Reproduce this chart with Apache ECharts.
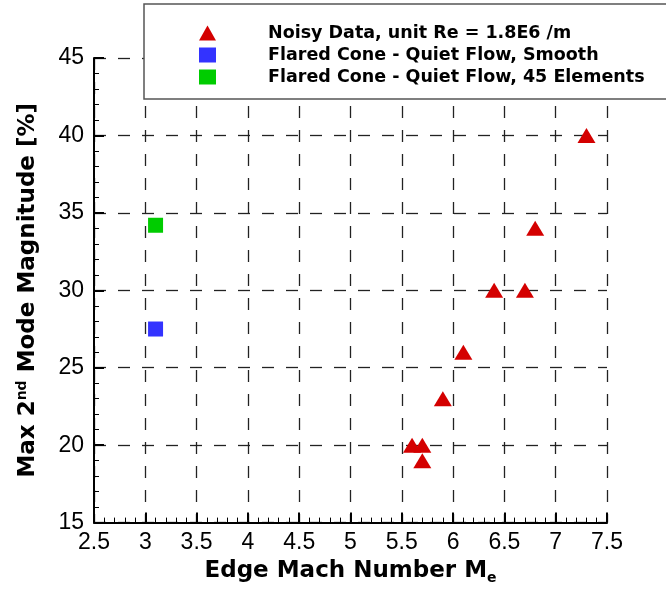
<!DOCTYPE html>
<html><head><meta charset="utf-8">
<script src="https://cdn.jsdelivr.net/npm/echarts@6/dist/echarts.min.js"></script>
<style>html,body{margin:0;padding:0;background:#fff}#c{width:666px;height:590px}</style>
</head><body><div id="c"></div>
<script>
const noisyMach = [7.3, 6.8, 6.4, 6.7, 6.1, 5.9, 5.6, 5.7, 5.7];
const noisyMag  = [40, 34, 30, 30, 26, 23, 20, 20, 19];
const smoothMach = [3.1];
const smoothMag = [27.5];
const elemMach = [3.1];
const elemMag = [34.2];
const seriesNames = ['Noisy Data, unit Re = 1.8E6 /m', 'Flared Cone - Quiet Flow, Smooth', 'Flared Cone - Quiet Flow, 45 Elements'];
const xTitle = 'Edge Mach Number M';
const yTitle = 'Max 2nd Mode Magnitude [%]';

const numFont = '"Liberation Sans", Arial, sans-serif';
const titleFont = '"DejaVu Sans", sans-serif';
const zip = (a, b) => a.map((v, i) => [v, b[i]]);
const chart = echarts.init(document.getElementById('c'), null, {renderer: 'canvas'});
const dashed = {show: true, lineStyle: {color: '#222', width: 1.3, type: [12, 12]}};
chart.setOption({
  animation: false,
  backgroundColor: '#fff',
  textStyle: {fontFamily: numFont},
  grid: {left: 94, right: 59, top: 58, bottom: 65, containLabel: false},
  xAxis: {
    type: 'value', min: 2.5, max: 7.5, interval: 0.5,
    axisLine: {show: true, onZero: false, lineStyle: {color: '#000', width: 2}},
    axisTick: {show: true, inside: true, length: 10, lineStyle: {color: '#000', width: 2}},
    minorTick: {show: true, splitNumber: 5, length: 5, lineStyle: {color: '#000', width: 1}},
    splitLine: dashed,
    axisLabel: {color: '#000', fontSize: 23, fontFamily: numFont, margin: 9,
      formatter: v => String(Math.round(v * 10) / 10)},
    name: xTitle + '{sub|e}', nameLocation: 'middle', nameGap: 34,
    nameTextStyle: {color: '#000', fontSize: 23, fontWeight: 'bold', fontFamily: titleFont,
      rich: {sub: {fontSize: 14, fontWeight: 'bold', fontFamily: titleFont, verticalAlign: 'bottom', padding: [14, 0, 0, 0]}}}
  },
  yAxis: {
    type: 'value', min: 15, max: 45, interval: 5,
    axisLine: {show: true, onZero: false, lineStyle: {color: '#000', width: 2}},
    axisTick: {show: true, inside: true, length: 10, lineStyle: {color: '#000', width: 2}},
    minorTick: {show: true, splitNumber: 5, length: 5, lineStyle: {color: '#000', width: 1}},
    splitLine: dashed,
    axisLabel: {color: '#000', fontSize: 23, fontFamily: numFont, margin: 10},
    name: 'Max 2{sup|nd} Mode Magnitude [%]', nameLocation: 'middle', nameGap: 53, nameRotate: 90,
    nameTextStyle: {color: '#000', fontSize: 23, fontWeight: 'bold', fontFamily: titleFont,
      rich: {sup: {fontSize: 14, fontWeight: 'bold', fontFamily: titleFont, verticalAlign: 'top', padding: [0, 0, 12, 0]}}}
  },
  graphic: [{
    type: 'rect', z: 50, silent: true,
    shape: {x: 144, y: 4, width: 560, height: 95},
    style: {fill: '#fff', stroke: '#555', lineWidth: 1.5}
  }],
  legend: {
    z: 60, orient: 'vertical', left: 194, top: 19,
    itemWidth: 17, itemHeight: 15, itemGap: 4,
    textStyle: {color: '#000', fontSize: 17.5, fontWeight: 'bold', fontFamily: titleFont, padding: [0, 0, 0, 47]},
    data: [
      {name: seriesNames[0], icon: 'triangle'},
      {name: seriesNames[1], icon: 'rect'},
      {name: seriesNames[2], icon: 'rect'}
    ]
  },
  series: [
    {name: seriesNames[0], type: 'scatter', symbol: 'triangle', symbolSize: [18, 15],
     itemStyle: {color: '#d40000', opacity: 1}, data: zip(noisyMach, noisyMag)},
    {name: seriesNames[1], type: 'scatter', symbol: 'rect', symbolSize: [15, 15],
     itemStyle: {color: '#3333ff', opacity: 1}, data: zip(smoothMach, smoothMag)},
    {name: seriesNames[2], type: 'scatter', symbol: 'rect', symbolSize: [15, 15],
     itemStyle: {color: '#00cc00', opacity: 1}, data: zip(elemMach, elemMag)}
  ]
});
</script></body></html>
